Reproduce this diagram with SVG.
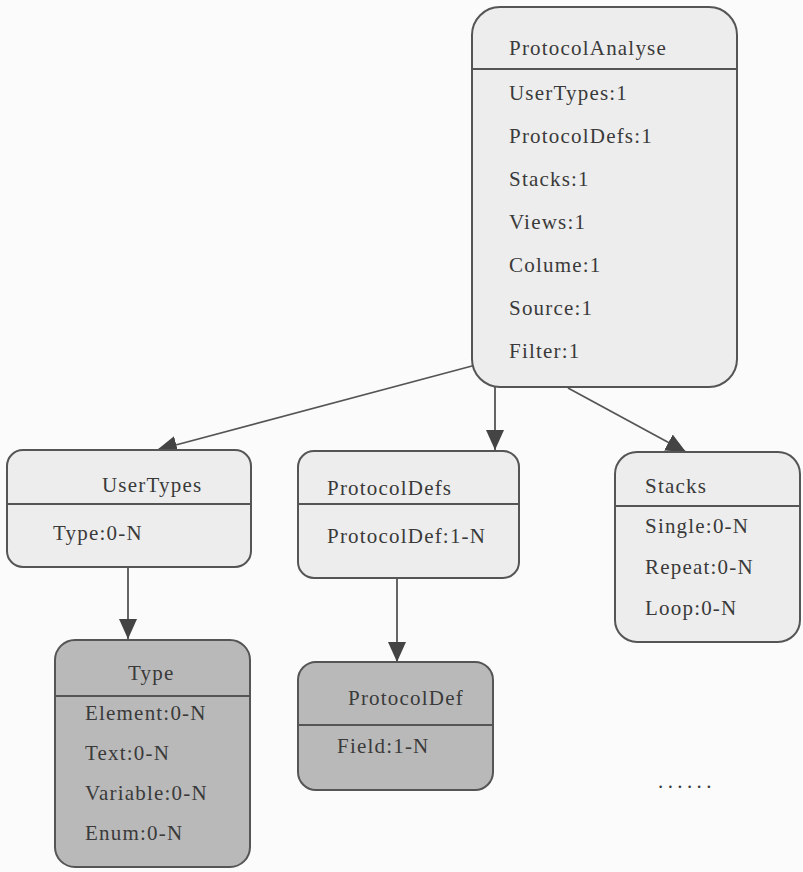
<svg xmlns="http://www.w3.org/2000/svg" width="803" height="872" viewBox="0 0 803 872">
  <style>
    .box { fill: #ededed; stroke: #555; stroke-width: 2; }
    .dark { fill: #b9b9b9; stroke: #555; stroke-width: 2; }
    .div { stroke: #555; stroke-width: 2; }
    .t { font-family: "Liberation Serif", "DejaVu Serif", "Times New Roman", serif; font-size: 21px; letter-spacing: 1.2px; fill: #3a3a3a; }
    .edge { stroke: #555; stroke-width: 1.8; fill: none; marker-end: url(#arrow); }
  </style>
  <defs>
    <marker id="arrow" markerUnits="userSpaceOnUse" markerWidth="20" markerHeight="20" refX="20" refY="10" orient="auto">
      <path d="M0,1 L20,10 L0,19 z" fill="#444"/>
    </marker>
  </defs>
  <rect width="803" height="872" fill="#fbfbfb"/>

  <!-- connectors -->
  <g id="edges">
    <path class="edge" d="M472,366 L157,450"/>
    <path class="edge" d="M495,387 L495,450"/>
    <path class="edge" d="M568,388 L686,452"/>
    <path class="edge" d="M128,567 L128,639"/>
    <path class="edge" d="M397,578 L397,662"/>
  </g>

  <g id="protocol-analyse">
    <rect class="box" x="472" y="7" width="265" height="380" rx="28"/>
    <line class="div" x1="472" y1="69" x2="737" y2="69"/>
    <text class="t" x="509" y="55" font-family="Liberation Serif, serif">ProtocolAnalyse</text>
    <text class="t" x="509" y="100">UserTypes:1</text>
    <text class="t" x="509" y="143">ProtocolDefs:1</text>
    <text class="t" x="509" y="186">Stacks:1</text>
    <text class="t" x="509" y="229">Views:1</text>
    <text class="t" x="509" y="272">Colume:1</text>
    <text class="t" x="509" y="315">Source:1</text>
    <text class="t" x="509" y="358">Filter:1</text>
  </g>

  <g id="user-types">
    <rect class="box" x="7" y="450" width="244" height="117" rx="16"/>
    <line class="div" x1="7" y1="504" x2="251" y2="504"/>
    <text class="t" x="102" y="492">UserTypes</text>
    <text class="t" x="53" y="540">Type:0-N</text>
  </g>

  <g id="protocol-defs">
    <rect class="box" x="298" y="451" width="221" height="127" rx="16"/>
    <line class="div" x1="298" y1="504" x2="519" y2="504"/>
    <text class="t" x="327" y="495">ProtocolDefs</text>
    <text class="t" x="327" y="543">ProtocolDef:1-N</text>
  </g>

  <g id="stacks">
    <rect class="box" x="615" y="452" width="185" height="190" rx="22"/>
    <line class="div" x1="615" y1="506" x2="800" y2="506"/>
    <text class="t" x="645" y="493">Stacks</text>
    <text class="t" x="645" y="533">Single:0-N</text>
    <text class="t" x="645" y="574">Repeat:0-N</text>
    <text class="t" x="645" y="615">Loop:0-N</text>
  </g>

  <g id="type">
    <rect class="dark" x="55" y="640" width="195" height="227" rx="20"/>
    <line class="div" x1="55" y1="696" x2="250" y2="696"/>
    <text class="t" x="128" y="680">Type</text>
    <text class="t" x="85" y="720">Element:0-N</text>
    <text class="t" x="85" y="760">Text:0-N</text>
    <text class="t" x="85" y="800">Variable:0-N</text>
    <text class="t" x="85" y="840">Enum:0-N</text>
  </g>

  <g id="protocol-def">
    <rect class="dark" x="298" y="662" width="195" height="128" rx="18"/>
    <line class="div" x1="298" y1="725" x2="493" y2="725"/>
    <text class="t" x="348" y="705">ProtocolDef</text>
    <text class="t" x="337" y="753">Field:1-N</text>
  </g>

  <g id="more">
    <text class="t" x="658" y="788" style="letter-spacing:4.4px">......</text>
  </g>
</svg>
